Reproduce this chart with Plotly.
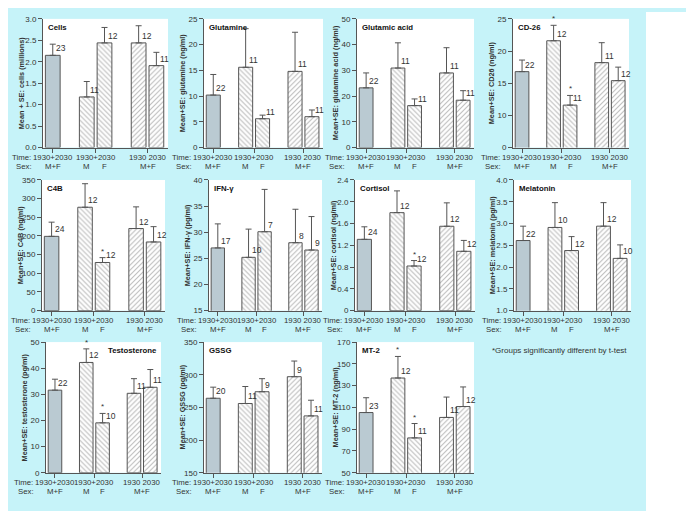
import plotly.graph_objects as go

# ---- data (bar order: M+F pooled, M, F, 1930, 2030) ----
time_labels = ["1930+2030", "1930+2030", "1930 2030"]
sex_labels = ["M+F", "M", "F", "M+F"]

cells_mean = [2.15, 1.18, 2.44, 2.44, 1.91]
cells_se = [0.26, 0.36, 0.36, 0.40, 0.31]
cells_n = [23, 11, 12, 12, 11]

glutamine_mean = [10.2, 15.6, 5.6, 14.8, 6.0]
glutamine_se = [4.0, 7.5, 0.7, 7.6, 1.3]
glutamine_n = [22, 11, 11, 11, 11]

glutamic_mean = [23.2, 30.9, 16.3, 29.0, 18.4]
glutamic_se = [5.8, 9.8, 2.6, 9.8, 3.7]
glutamic_n = [22, 11, 11, 11, 11]

cd26_mean = [16.8, 21.6, 11.6, 18.2, 15.4]
cd26_se = [1.8, 2.4, 1.5, 3.1, 2.1]
cd26_n = [22, 12, 11, 11, 12]

c4b_mean = [199, 277, 129, 220, 184]
c4b_se = [38, 63, 13, 58, 41]
c4b_n = [24, 12, 12, 12, 12]

ifn_mean = [27.0, 25.2, 30.1, 28.0, 26.6]
ifn_se = [4.6, 5.4, 8.1, 6.4, 6.4]
ifn_n = [17, 10, 7, 8, 9]

cortisol_mean = [1.31, 1.80, 0.82, 1.55, 1.09]
cortisol_se = [0.23, 0.40, 0.10, 0.43, 0.20]
cortisol_n = [24, 12, 12, 12, 12]

melatonin_mean = [2.61, 2.91, 2.38, 2.94, 2.20]
melatonin_se = [0.33, 0.57, 0.32, 0.54, 0.31]
melatonin_n = [22, 10, 12, 12, 10]

testo_mean = [31.6, 42.2, 19.1, 30.4, 32.7]
testo_se = [4.2, 5.2, 3.6, 5.6, 6.8]
testo_n = [22, 12, 10, 11, 11]

gssg_mean = [264, 256, 274, 297, 237]
gssg_se = [17, 26, 20, 24, 24]
gssg_n = [20, 11, 9, 9, 11]

mt2_mean = [105.3, 137, 82, 100.8, 110.8]
mt2_se = [13.6, 19.8, 13.2, 18.7, 18.0]
mt2_n = [23, 12, 11, 11, 12]

panels = [
    dict(title="Cells", ytitle="Mean + SE: cells (millions)", mean=cells_mean, se=cells_se, n=cells_n,
         stars=[], yr=[0, 3], tv=[0, 0.5, 1, 1.5, 2, 2.5, 3],
         tt=["0.0", "0.5", "1.0", "1.5", "2.0", "2.5", "3.0"]),
    dict(title="Glutamine", ytitle="Mean+SE: glutamine (ng/ml)", mean=glutamine_mean, se=glutamine_se,
         n=glutamine_n, stars=[], yr=[0, 25], tv=[0, 5, 10, 15, 20, 25], tt=["0", "5", "10", "15", "20", "25"]),
    dict(title="Glutamic acid", ytitle="Mean+SE: glutamine acid (ng/ml)", mean=glutamic_mean, se=glutamic_se,
         n=glutamic_n, stars=[], yr=[0, 50], tv=[0, 10, 20, 30, 40, 50], tt=["0", "10", "20", "30", "40", "50"]),
    dict(title="CD-26", ytitle="Mean+SE: CD26 (ng/ml)", mean=cd26_mean, se=cd26_se, n=cd26_n,
         stars=[1, 2], yr=[5, 25], tv=[5, 10, 15, 20, 25], tt=["0", "10", "15", "20", "25"]),
    dict(title="C4B", ytitle="Mean+SE: C4B (ng/ml)", mean=c4b_mean, se=c4b_se, n=c4b_n,
         stars=[2], yr=[0, 350], tv=[0, 50, 100, 150, 200, 250, 300, 350],
         tt=["0", "50", "100", "150", "200", "250", "300", "350"]),
    dict(title="IFN-γ", ytitle="Mean+SE: IFN-γ (pg/ml)", mean=ifn_mean, se=ifn_se, n=ifn_n,
         stars=[], yr=[15, 40], tv=[15, 20, 25, 30, 35, 40], tt=["15", "20", "25", "30", "35", "40"]),
    dict(title="Cortisol", ytitle="Mean+SE: cortisol (ng/ml)", mean=cortisol_mean, se=cortisol_se,
         n=cortisol_n, stars=[2], yr=[0, 2.4], tv=[0, 0.4, 0.8, 1.2, 1.6, 2.0, 2.4],
         tt=["0", "0.4", "0.8", "1.2", "1.6", "2.0", "2.4"]),
    dict(title="Melatonin", ytitle="Mean+SE: melatonin (pg/ml)", mean=melatonin_mean, se=melatonin_se,
         n=melatonin_n, stars=[], yr=[1, 4], tv=[1, 1.5, 2, 2.5, 3, 3.5, 4],
         tt=["1.0", "1.5", "2.0", "2.5", "3.0", "3.5", "4.0"]),
    dict(title="Testosterone", ytitle="Mean+SE: testosterone (pg/ml)", mean=testo_mean, se=testo_se,
         n=testo_n, stars=[1, 2], yr=[0, 50], tv=[0, 10, 20, 30, 40, 50], tt=["0", "10", "20", "30", "40", "50"]),
    dict(title="GSSG", ytitle="Mean+SE: GSSG (pg/ml)", mean=gssg_mean, se=gssg_se, n=gssg_n,
         stars=[], yr=[150, 350], tv=[150, 200, 250, 300, 350], tt=["150", "200", "250", "300", "350"]),
    dict(title="MT-2", ytitle="Mean+SE: MT-2 (ng/ml)", mean=mt2_mean, se=mt2_se, n=mt2_n,
         stars=[1, 2], yr=[50, 170], tv=[50, 70, 90, 110, 130, 150, 170],
         tt=["50", "70", "90", "110", "130", "150", "170"]),
]

# ---- layout (pixels in the final picture) ----
W, H = 694, 511
OFF = 8  # page body margin shifts the figure by this much
col_px = [[(43, 168), (204, 323), (357, 474), (513, 629)],
          [(42, 165), (209, 322), (355, 475), (514, 631)],
          [(46, 161), (204, 322), (357, 474)]]
row_px = [(15, 146), (179, 312), (344, 477)]

bar_x = [0.78, 3.5, 4.92, 7.65, 9.07]
group_x = [0.78, 4.21, 8.36]
bar_w = 1.18

TXT = "#333333"
LINE = "#555555"
FONT = "Liberation Sans, Arial, sans-serif"


def PX(p):
    return (p - OFF) / W


def PY(p):
    return 1 - (p - OFF) / H


fig = go.Figure()
annotations = []

k = 0
for r, cols in enumerate(col_px):
    for c, (x0, x1) in enumerate(cols):
        p = panels[k]
        k += 1
        xa = "x" if k == 1 else f"x{k}"
        ya = "y" if k == 1 else f"y{k}"
        y0, y1 = row_px[r]
        m, se = p["mean"], p["se"]
        to_px = lambda v: x0 + v / 10 * (x1 - x0)

        err = dict(type="data", symmetric=False, color=LINE, thickness=1, width=3)
        fig.add_trace(go.Bar(
            x=bar_x[:1], y=m[:1], width=bar_w, xaxis=xa, yaxis=ya, showlegend=False,
            marker=dict(color="#bacad2", line=dict(color=LINE, width=1)),
            error_y=dict(err, array=se[:1], arrayminus=[0])))
        fig.add_trace(go.Bar(
            x=bar_x[1:3], y=m[1:3], width=bar_w, xaxis=xa, yaxis=ya, showlegend=False,
            marker=dict(color="white", line=dict(color=LINE, width=1),
                        pattern=dict(shape="\\", fgcolor="#767676", bgcolor="white", size=3.5,
                                     solidity=0.3, fillmode="overlay")),
            error_y=dict(err, array=se[1:3], arrayminus=[0, 0])))
        fig.add_trace(go.Bar(
            x=bar_x[3:], y=m[3:], width=bar_w, xaxis=xa, yaxis=ya, showlegend=False,
            marker=dict(color="white", line=dict(color=LINE, width=1),
                        pattern=dict(shape="/", fgcolor="#767676", bgcolor="white", size=3.5,
                                     solidity=0.3, fillmode="overlay")),
            error_y=dict(err, array=se[3:], arrayminus=[0, 0])))

        fig.layout[f"xaxis{'' if k == 1 else k}"] = dict(
            domain=[PX(x0), PX(x1)], anchor=ya, range=[0, 10], showline=True, linecolor=LINE,
            linewidth=1, ticks="outside", ticklen=4, tickcolor=LINE, tickvals=group_x,
            ticktext=["", "", ""], showgrid=False, zeroline=False, fixedrange=True)
        fig.layout[f"yaxis{'' if k == 1 else k}"] = dict(
            domain=[PY(y1), PY(y0)], anchor=xa, range=p["yr"], tickvals=p["tv"], ticktext=p["tt"],
            showline=True, linecolor=LINE, linewidth=1, ticks="outside", ticklen=4, tickcolor=LINE,
            showgrid=False, zeroline=False, tickfont=dict(size=8, color=TXT, family=FONT))

        # panel title
        right = p["title"] == "Testosterone"
        annotations.append(dict(text=f"<b>{p['title']}</b>", xref=xa, yref="paper",
                                x=9.8 if right else 0.25, y=PY(y0 + 2),
                                xanchor="right" if right else "left", yanchor="top",
                                showarrow=False, font=dict(size=7.8, color="#111")))
        # y-axis title
        annotations.append(dict(text=f"<b>{p['ytitle']}</b>", xref="paper", yref="paper",
                                x=PX(x0 - 22), y=PY((y0 + y1) / 2), textangle=-90,
                                xanchor="center", yanchor="middle", showarrow=False,
                                font=dict(size=7.3, color=TXT)))
        # n labels and stars
        for i in range(5):
            annotations.append(dict(text=str(p["n"][i]), xref=xa, yref=ya, x=bar_x[i] + 0.1,
                                    y=m[i], xanchor="left", yanchor="bottom", showarrow=False,
                                    font=dict(size=8.5, color=TXT)))
        for i in p["stars"]:
            annotations.append(dict(text="*", xref=xa, yref=ya, x=bar_x[i], y=m[i] + se[i],
                                    xanchor="center", yanchor="bottom", showarrow=False,
                                    font=dict(size=8, color=TXT)))
        # category labels under the axis
        ty, sy = PY(y1 + 10), PY(y1 + 19)
        annotations.append(dict(text="Time:", xref="paper", yref="paper", x=PX(to_px(bar_x[0]) - 20),
                                y=ty, xanchor="right", yanchor="middle", showarrow=False,
                                font=dict(size=7.8, color=TXT)))
        annotations.append(dict(text="Sex:", xref="paper", yref="paper", x=PX(to_px(bar_x[0]) - 19),
                                y=sy, xanchor="right", yanchor="middle", showarrow=False,
                                font=dict(size=7.8, color=TXT)))
        for gx, t in zip(group_x, time_labels):
            annotations.append(dict(text=t, xref=xa, yref="paper", x=gx, y=ty, xanchor="center",
                                    yanchor="middle", showarrow=False, font=dict(size=7.8, color=TXT)))
        for sx, t in zip([bar_x[0], bar_x[1], bar_x[2], group_x[2]], sex_labels):
            annotations.append(dict(text=t, xref=xa, yref="paper", x=sx, y=sy, xanchor="center",
                                    yanchor="middle", showarrow=False, font=dict(size=7.8, color=TXT)))

annotations.append(dict(text="*Groups significantly different by t-test", xref="paper", yref="paper",
                        x=PX(490), y=PY(353), xanchor="left", yanchor="middle", showarrow=False,
                        font=dict(size=8, color=TXT)))

fig.update_layout(
    width=W, height=H, margin=dict(l=0, r=0, t=0, b=0),
    paper_bgcolor="#c6f3f9", plot_bgcolor="white", barmode="overlay",
    font=dict(family=FONT, color=TXT, size=8),
    annotations=annotations,
    shapes=[dict(type="rect", xref="paper", yref="paper", x0=PX(646), x1=1, y0=0, y1=1,
                 fillcolor="white", line=dict(width=0), layer="below")],
)

fig.write_html("out.html")
